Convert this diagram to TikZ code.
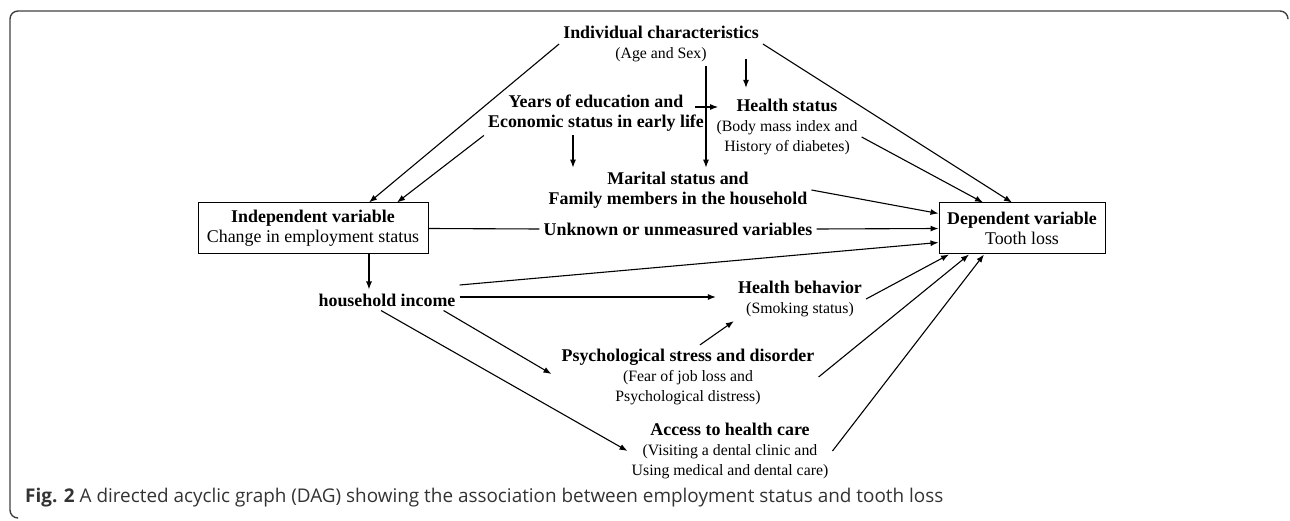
\documentclass[tikz,border=0pt]{standalone}
\usepackage{fontspec}
\setmainfont{Liberation Serif}
\newfontfamily\capfont{Open Sans}
\usetikzlibrary{arrows.meta}
\newcommand{\subt}[1]{{\fontsize{15.8}{19}\selectfont #1}}

\begin{document}
\begin{tikzpicture}[x=1pt,y=-1pt,
    lbl/.style={align=center,inner sep=4pt,font=\fontsize{17.9}{20}\selectfont},
    vbox/.style={lbl,draw,line width=1pt,minimum width=230pt,minimum height=51pt},
    arr/.style={-{Latex[length=8pt,width=6pt]},line width=1.1pt}]
  \useasboundingbox (0,0) rectangle (1290,521);
  % frame
  \draw[black!75,line width=1.4pt,rounded corners=8pt] (1288,18) |- (10,11) |- (17,518);
  % variables
  \node[lbl] (ic) at (661,44) {\textbf{Individual characteristics}\\\subt{(Age and Sex)}};
  \node[lbl] (yrs) at (596,113) {\textbf{Years of education and}\\\textbf{Economic status in early life}};
  \node[lbl] (hs) at (787,127) {\textbf{Health status}\\\subt{(Body mass index and}\\\subt{History of diabetes)}};
  \node[lbl] (mar) at (678,190) {\textbf{Marital status and}\\\textbf{Family members in the household}};
  \node[vbox] (indep) at (313,228.5) {\textbf{Independent variable}\\Change in employment status};
  \node[lbl] (unk) at (678,229) {\textbf{Unknown or unmeasured variables}};
  \node[vbox,minimum width=166pt] (dep) at (1022,228.5) {\textbf{Dependent variable}\\Tooth loss};
  \node[lbl] (inc) at (387,300) {\textbf{household income}};
  \node[lbl] (hb) at (800,299) {\textbf{Health behavior}\\\subt{(Smoking status)}};
  \node[lbl] (psy) at (688,377) {\textbf{Psychological stress and disorder}\\\subt{(Fear of job loss and}\\\subt{Psychological distress)}};
  \node[lbl] (acc) at (730,451) {\textbf{Access to health care}\\\subt{(Visiting a dental clinic and}\\\subt{Using medical and dental care)}};
  % caption
  \node[anchor=west,inner sep=0pt,text=black!80,font=\capfont\fontsize{18.9}{20}\selectfont] (cap) at (25,498)
    {\textbf{Fig. 2} A directed acyclic graph (DAG) showing the association between employment status and tooth loss};
  % paths
  \draw[arr] (ic.west) -- ([xshift=56pt]indep.north);
  \draw[arr] (yrs.south west) -- ([xshift=84pt]indep.north);
  \draw[arr] ([xshift=45pt]ic.south) -- ([xshift=45pt]ic.south |- mar.north);
  \draw[arr] ([xshift=85pt,yshift=7pt]ic.south) -- ([xshift=85pt,yshift=7pt]ic.south |- hs.north);
  \draw[arr] ([xshift=-13pt,yshift=6pt]yrs.east) -- ([xshift=10pt,yshift=6pt]yrs.east);
  \draw[arr] ([xshift=-23pt]yrs.south) -- ([xshift=-23pt]yrs.south |- mar.north);
  \draw[arr] (ic.east) -- ([xshift=-10pt]dep.north);
  \draw[arr] ([yshift=-10pt]hs.east) -- ([xshift=-39pt]dep.north);
  \draw[arr] (mar.east) -- ([yshift=15pt]dep.west);
  \draw[line width=1.1pt] (indep.east) -- (unk.west);
  \draw[arr] (unk.east) -- (dep.west);
  \draw[arr] ([xshift=56pt]indep.south) -- ([xshift=56pt]indep.south |- inc.north);
  \draw[arr] ([yshift=15pt]inc.east) -- ([yshift=-14pt]dep.west);
  \draw[arr] ([yshift=3pt]inc.east) -- ([xshift=-18pt,yshift=2pt]hb.west);
  \draw[arr] ([xshift=-16pt]inc.south east) -- ([xshift=-6pt,yshift=3pt]psy.west);
  \draw[arr] ([xshift=-6pt]inc.south) -- (acc.west);
  \draw[arr] ([xshift=12pt]psy.north) -- (hb.south west);
  \draw[arr] (hb.east) -- ([xshift=-73pt]dep.south);
  \draw[arr] (psy.east) -- ([xshift=-53pt]dep.south);
  \draw[arr] (acc.east) -- ([xshift=-38pt]dep.south);
\end{tikzpicture}
\end{document}
